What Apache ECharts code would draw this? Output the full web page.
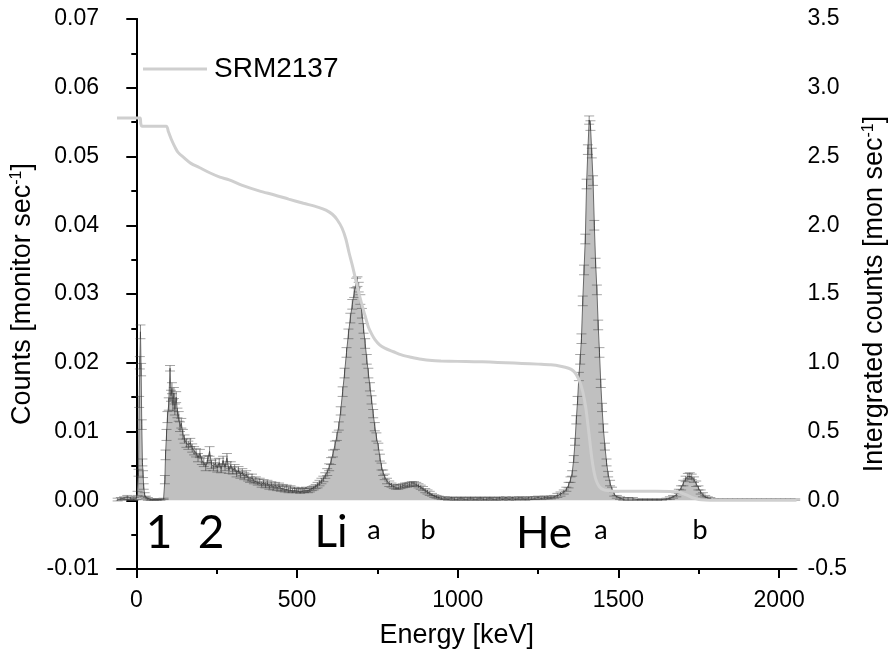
<!DOCTYPE html>
<html>
<head>
<meta charset="utf-8">
<script src="https://cdn.jsdelivr.net/npm/echarts@6/dist/echarts.min.js"></script>
<style>html,body{margin:0;padding:0;background:#fff}#c{width:896px;height:656px}</style>
</head>
<body>
<div id="c"></div>
<script>
// [energy keV, counts (monitor sec^-1), error]
const spectrum = [
[-58,0.0001,0.0002],[-48,0.0002,0.0002],[-38,0.0003,0.0002],[-28,0.0004,0.0003],[-18,0.0003,0.0002],[-8,0.0002,0.0002],[0,0.0003,0.0002],[4,0.0010,0.0003],[7,0.0040,0.0005],[9,0.0143,0.0008],
[11,0.0200,0.0009],[13,0.0245,0.0010],[15,0.0190,0.0009],[17,0.0110,0.0007],[19,0.0055,0.0005],[21,0.0038,0.0005],[23,0.0020,0.0004],[26,0.0008,0.0003],[30,0.0004,0.0002],[36,0.0002,0.0002],
[45,0.0001,0.0001],[55,0.0001,0.0001],[65,0.0001,0.0001],[75,0.0001,0.0001],[85,0.0002,0.0001],
[89,0.0030,0.0006],[91,0.0066,0.0007],[94,0.0095,0.0008],[97,0.0121,0.0008],[101,0.0140,0.0009],[105,0.0192,0.0004],[108,0.0152,0.0008],[111,0.0163,0.0008],[114,0.0138,0.0008],[117,0.0156,0.0008],
[120,0.0132,0.0008],[124,0.0150,0.0008],[128,0.0127,0.0007],[132,0.0122,0.0007],[136,0.0107,0.0007],[140,0.0112,0.0007],[145,0.0096,0.0007],[150,0.0089,0.0006],[156,0.0083,0.0006],[162,0.0080,0.0006],
[168,0.0084,0.0006],[174,0.0076,0.0006],[180,0.0072,0.0006],[186,0.0069,0.0006],[192,0.0062,0.0006],[198,0.0068,0.0006],[204,0.0058,0.0006],[210,0.0055,0.0006],[216,0.0049,0.0006],[222,0.0059,0.0006],
[228,0.0071,0.0007],[234,0.0052,0.0006],[240,0.0049,0.0006],[246,0.0054,0.0006],[252,0.0047,0.0006],[258,0.0055,0.0006],[264,0.0045,0.0005],[270,0.0058,0.0006],[276,0.0048,0.0005],[282,0.0062,0.0006],
[288,0.0044,0.0005],[294,0.0051,0.0005],[300,0.0043,0.0005],[306,0.0047,0.0005],[312,0.0039,0.0005],[318,0.0044,0.0005],[324,0.0037,0.0005],[330,0.0041,0.0005],[336,0.0035,0.0005],[342,0.0038,0.0005],
[348,0.0033,0.0005],[354,0.0030,0.0004],[360,0.0033,0.0005],[366,0.0028,0.0004],[372,0.0030,0.0004],[378,0.0026,0.0004],[384,0.0028,0.0004],[390,0.0023,0.0004],[396,0.0026,0.0004],[402,0.0022,0.0004],
[408,0.0025,0.0004],[414,0.0020,0.0004],[420,0.0023,0.0004],[426,0.0019,0.0004],[432,0.0022,0.0004],[438,0.0018,0.0004],[444,0.0021,0.0004],[450,0.0017,0.0004],[456,0.0019,0.0004],[462,0.0016,0.0004],
[468,0.0018,0.0004],[474,0.0015,0.0004],[480,0.0017,0.0004],[486,0.0014,0.0003],[492,0.0016,0.0003],[498,0.0014,0.0003],[504,0.0015,0.0003],[510,0.0013,0.0003],[516,0.0015,0.0003],[522,0.0014,0.0003],
[528,0.0016,0.0003],[534,0.0014,0.0003],[540,0.0015,0.0003],[546,0.0017,0.0003],[552,0.0018,0.0003],[558,0.0020,0.0003],[564,0.0022,0.0004],[570,0.0025,0.0004],[576,0.0028,0.0004],[582,0.0031,0.0004],
[588,0.0036,0.0004],[594,0.0041,0.0005],[600,0.0048,0.0005],[606,0.0057,0.0005],[612,0.0068,0.0005],[618,0.0080,0.0006],[624,0.0093,0.0006],[630,0.0108,0.0006],[636,0.0130,0.0006],[642,0.0158,0.0007],
[648,0.0185,0.0007],[654,0.0215,0.0007],[660,0.0242,0.0007],[666,0.0265,0.0007],[672,0.0285,0.0007],[678,0.0302,0.0007],[684,0.0316,0.0007],[688,0.0318,0.0007],[692,0.0310,0.0007],[697,0.0292,0.0007],
[702,0.0272,0.0007],[707,0.0250,0.0007],[712,0.0228,0.0007],[717,0.0205,0.0007],[722,0.0185,0.0007],[727,0.0165,0.0006],[732,0.0146,0.0006],[737,0.0126,0.0006],[742,0.0107,0.0006],[747,0.0092,0.0006],
[753,0.0078,0.0005],[758,0.0062,0.0005],[763,0.0049,0.0005],[768,0.0040,0.0004],[773,0.0034,0.0004],[780,0.0028,0.0004],[787,0.0024,0.0004],[794,0.0022,0.0003],[801,0.0020,0.0003],[808,0.0019,0.0003],
[815,0.0019,0.0003],[822,0.0020,0.0003],[829,0.0021,0.0003],[836,0.0022,0.0003],[843,0.0022,0.0003],[850,0.0023,0.0003],[857,0.0024,0.0003],[864,0.0024,0.0003],[871,0.0023,0.0003],[878,0.0021,0.0003],
[885,0.0019,0.0003],[892,0.0017,0.0003],[899,0.0014,0.0003],[906,0.0012,0.0003],[913,0.0010,0.0003],[920,0.0008,0.0002],[927,0.0006,0.0002],[934,0.0005,0.0002],[941,0.0004,0.0002],[950,0.0003,0.0002],
[960,0.0003,0.0002],[970,0.0002,0.0002],[980,0.0003,0.0002],[990,0.0002,0.0002],[1000,0.0002,0.0002],[1010,0.0003,0.0002],[1020,0.0002,0.0002],[1030,0.0002,0.0002],[1040,0.0003,0.0002],[1050,0.0002,0.0002],
[1060,0.0002,0.0002],[1070,0.0003,0.0002],[1080,0.0002,0.0002],[1090,0.0002,0.0002],[1100,0.0003,0.0002],[1110,0.0002,0.0002],[1120,0.0002,0.0002],[1130,0.0003,0.0002],[1140,0.0002,0.0002],[1150,0.0003,0.0002],
[1160,0.0002,0.0002],[1170,0.0003,0.0002],[1180,0.0002,0.0002],[1190,0.0003,0.0002],[1200,0.0003,0.0002],[1210,0.0002,0.0002],[1220,0.0003,0.0002],[1230,0.0003,0.0002],[1240,0.0003,0.0002],[1250,0.0004,0.0002],
[1260,0.0003,0.0002],[1270,0.0004,0.0002],[1280,0.0004,0.0002],[1290,0.0004,0.0002],[1300,0.0005,0.0002],[1310,0.0007,0.0003],[1320,0.0009,0.0003],[1330,0.0012,0.0003],[1338,0.0016,0.0003],[1345,0.0022,0.0004],
[1351,0.0030,0.0004],[1356,0.0039,0.0004],[1361,0.0060,0.0005],[1365,0.0085,0.0005],[1369,0.0117,0.0006],[1373,0.0145,0.0006],[1377,0.0180,0.0006],[1381,0.0205,0.0007],[1385,0.0235,0.0007],[1389,0.0290,0.0007],
[1393,0.0335,0.0007],[1397,0.0380,0.0007],[1401,0.0460,0.0007],[1405,0.0510,0.0007],[1409,0.0553,0.0006],[1413,0.0545,0.0007],[1417,0.0505,0.0007],[1421,0.0465,0.0007],[1425,0.0400,0.0007],[1429,0.0345,0.0007],
[1433,0.0306,0.0007],[1437,0.0255,0.0007],[1441,0.0215,0.0007],[1445,0.0170,0.0006],[1449,0.0135,0.0006],[1453,0.0105,0.0006],[1458,0.0078,0.0005],[1463,0.0055,0.0005],[1468,0.0038,0.0004],[1474,0.0025,0.0004],
[1480,0.0016,0.0003],[1487,0.0009,0.0003],[1495,0.0005,0.0002],[1505,0.0003,0.0002],[1515,0.0002,0.0002],[1530,0.0002,0.0002],[1545,0.0002,0.0002],[1560,0.0001,0.0001],[1575,0.0001,0.0001],[1590,0.0001,0.0001],
[1605,0.0001,0.0001],[1620,0.0001,0.0001],[1635,0.0001,0.0001],[1650,0.0002,0.0001],[1660,0.0003,0.0002],[1670,0.0005,0.0002],[1680,0.0008,0.0003],[1688,0.0013,0.0003],[1695,0.0018,0.0003],[1702,0.0025,0.0004],
[1709,0.0031,0.0004],[1716,0.0035,0.0004],[1722,0.0036,0.0004],[1728,0.0034,0.0004],[1735,0.0030,0.0004],[1742,0.0024,0.0004],[1749,0.0018,0.0003],[1756,0.0012,0.0003],[1763,0.0008,0.0003],[1770,0.0005,0.0002],
[1778,0.0003,0.0002],[1786,0.0002,0.0002],[1795,0.0001,0.0001],[1810,0.0001,0.0001],[1825,0.0001,0.0001],[1840,0.0001,0.0001],[1855,0.0001,0.0001],[1870,0.0001,0.0001],[1885,0.0001,0.0001],[1900,0.0001,0.0001],
[1915,0.0001,0.0001],[1930,0.0001,0.0001],[1945,0.0001,0.0001],[1960,0.0001,0.0001],[1975,0.0001,0.0001],[1990,0.0001,0.0001],[2005,0.0001,0.0001],[2020,0.0001,0.0001],[2035,0.0001,0.0001],[2050,0.0001,0.0001]
];

// [energy keV, integrated counts (mon sec^-1)]
const integrated = [
[-60,2.78],[12,2.78],[14,2.74],[18,2.72],[93,2.72],[100,2.68],[110,2.62],[120,2.57],[130,2.53],[149,2.49],
[170,2.45],[196,2.42],[230,2.38],[260,2.35],[289,2.33],[330,2.29],[382,2.25],[430,2.22],[474,2.19],[520,2.16],
[567,2.13],[590,2.11],[610,2.08],[625,2.04],[640,1.98],[652,1.90],[662,1.80],[672,1.71],[680,1.63],[690,1.53],
[701,1.43],[712,1.34],[722,1.26],[732,1.21],[742,1.17],[757,1.13],[773,1.106],[800,1.08],[825,1.057],[855,1.04],
[887,1.025],[920,1.016],[948,1.013],[1000,1.01],[1051,1.008],[1100,1.005],[1150,1.0],[1200,0.995],[1250,0.99],[1290,0.985],
[1320,0.975],[1345,0.96],[1360,0.94],[1370,0.91],[1380,0.86],[1390,0.78],[1398,0.68],[1405,0.55],[1411,0.43],[1417,0.31],
[1423,0.22],[1430,0.15],[1440,0.10],[1455,0.075],[1475,0.068],[1500,0.066],[1600,0.065],[1660,0.064],[1690,0.058],[1705,0.045],
[1720,0.03],[1735,0.015],[1750,0.006],[1770,0.002],[1800,0.0],[2054,0.0]
];

const xMajorTicks = [0, 500, 1000, 1500, 2000];
const xMinorTicks = [250, 750, 1250, 1750];
const peakLabels = [
  {text: '1', x: 159, y: 533, size: 46},
  {text: '2', x: 211, y: 533, size: 46},
  {text: 'Li', x: 331, y: 533, size: 44},
  {text: 'a', x: 374, y: 530, size: 27},
  {text: 'b', x: 428, y: 530, size: 27},
  {text: 'He', x: 544, y: 534, size: 44},
  {text: 'a', x: 601, y: 530, size: 27},
  {text: 'b', x: 700, y: 530, size: 27}
];

const FONT = 'Liberation Sans';
const chart = echarts.init(document.getElementById('c'), null, {renderer: 'canvas'});

const option = {
  animation: false,
  backgroundColor: '#fff',
  grid: {left: 117, right: 95, top: 19, bottom: 87, containLabel: false},
  legend: {
    data: [{name: 'SRM2137', icon: 'rect'}], left: 138, top: 50, itemWidth: 64, itemHeight: 3, itemGap: 10,
    textStyle: {fontSize: 28, fontFamily: FONT, color: '#000', padding: [0, 0, 0, 2]}
  },
  xAxis: [{
    type: 'value', min: -60, max: 2054,
    name: 'Energy [keV]', nameLocation: 'middle', nameGap: 53,
    nameTextStyle: {fontSize: 27, fontFamily: FONT, color: '#000'},
    axisLine: {onZero: false, lineStyle: {color: '#000', width: 2}},
    axisTick: {show: true, length: 9, customValues: xMajorTicks, lineStyle: {color: '#000', width: 2}},
    axisLabel: {customValues: xMajorTicks, margin: 20, fontSize: 23, fontFamily: FONT, color: '#000', formatter: v => String(v)},
    splitLine: {show: false}
  }, {
    type: 'value', min: -60, max: 2054, position: 'bottom',
    axisLine: {show: false, onZero: false},
    axisTick: {show: true, length: 5, customValues: xMinorTicks, lineStyle: {color: '#000', width: 2}},
    axisLabel: {show: false},
    splitLine: {show: false}
  }],
  yAxis: [{
    type: 'value', min: -0.01, max: 0.07, interval: 0.01, position: 'left',
    name: 'Counts [monitor sec{sup|-1}]', nameLocation: 'middle', nameRotate: 90, nameGap: 78,
    nameTextStyle: {fontSize: 27, fontFamily: FONT, color: '#000',
      rich: {sup: {fontSize: 16, fontFamily: FONT, color: '#000', verticalAlign: 'top', padding: [0, 0, 12, 0]}}},
    axisLine: {show: true, lineStyle: {color: '#000', width: 2}},
    axisTick: {show: true, length: 10, lineStyle: {color: '#000', width: 2}},
    minorTick: {show: true, splitNumber: 2, length: 5, lineStyle: {color: '#000', width: 2}},
    axisLabel: {margin: 18, fontSize: 23, fontFamily: FONT, color: '#000', formatter: v => v.toFixed(2)},
    splitLine: {show: false}
  }, {
    type: 'value', min: -0.5, max: 3.5, interval: 0.5, position: 'right',
    name: 'Intergrated counts [mon sec{sup|-1}]', nameLocation: 'middle', nameRotate: 90, nameGap: 64,
    nameTextStyle: {fontSize: 27, fontFamily: FONT, color: '#000',
      rich: {sup: {fontSize: 16, fontFamily: FONT, color: '#000', verticalAlign: 'top', padding: [0, 0, 12, 0]}}},
    axisLine: {show: true, lineStyle: {color: '#000', width: 2}},
    axisTick: {show: true, inside: true, length: 10, lineStyle: {color: '#000', width: 2}},
    minorTick: {show: true, splitNumber: 2, length: 5, lineStyle: {color: '#000', width: 2}},
    axisLabel: {margin: 11, fontSize: 23, fontFamily: FONT, color: '#000', formatter: v => v.toFixed(1)},
    splitLine: {show: false}
  }],
  series: [{
    name: 'counts', type: 'line', xAxisIndex: 0, yAxisIndex: 0,
    data: spectrum.map(p => [p[0], p[1]]),
    symbol: 'none', smooth: false,
    lineStyle: {color: '#6a6a6a', width: 1},
    areaStyle: {color: '#c0c0c0', opacity: 1},
    z: 2
  }, {
    name: 'errors', type: 'custom', xAxisIndex: 0, yAxisIndex: 0,
    data: spectrum,
    renderItem: function (params, api) {
      const x = api.value(0), y = api.value(1), e = api.value(2);
      const lo = api.coord([x, y - e]);
      const hi = api.coord([x, y + e]);
      const hw = 5;
      return {
        type: 'group',
        children: [
          {type: 'line', shape: {x1: lo[0], y1: lo[1], x2: hi[0], y2: hi[1]}, style: {stroke: 'rgba(50,50,50,0.6)', lineWidth: 1}},
          {type: 'line', shape: {x1: lo[0] - hw, y1: lo[1], x2: lo[0] + hw, y2: lo[1]}, style: {stroke: 'rgba(60,60,60,0.45)', lineWidth: 1}},
          {type: 'line', shape: {x1: hi[0] - hw, y1: hi[1], x2: hi[0] + hw, y2: hi[1]}, style: {stroke: 'rgba(60,60,60,0.45)', lineWidth: 1}}
        ]
      };
    },
    z: 3
  }, {
    name: 'SRM2137', type: 'line', xAxisIndex: 0, yAxisIndex: 1,
    data: integrated, symbol: 'none', smooth: 0.3,
    lineStyle: {color: '#cfcfcf', width: 3},
    itemStyle: {color: '#cfcfcf'},
    z: 4
  }],
  graphic: peakLabels.map(l => ({
    type: 'text', x: l.x, y: l.y, z: 10,
    style: {text: l.text, fontSize: l.size, fontFamily: 'Lato', fill: '#000', align: 'center', verticalAlign: 'middle'}
  }))
};
chart.setOption(option);
</script>
</body>
</html>
